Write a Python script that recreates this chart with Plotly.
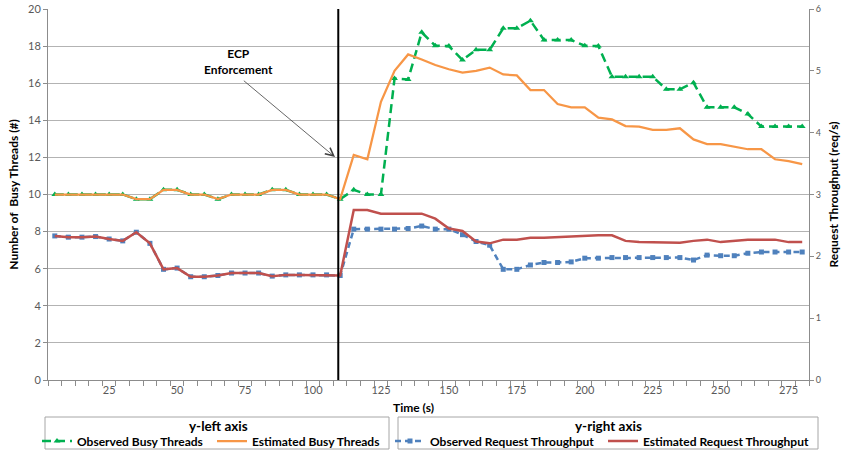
import plotly.graph_objects as go

# ---------------- data ----------------
time_s = list(range(5, 285, 5))  # 56 categories, 5..280

observed_busy = [10, 10, 10, 10, 10, 10, 9.75, 9.75, 10.25, 10.25,
                 10, 10, 9.75, 10, 10, 10, 10.25, 10.25, 10, 10,
                 10, 9.75, 10.25, 10, 10, 16.25, 16.2, 18.74, 18.02, 18.0,
                 17.25, 17.8, 17.8, 18.96, 18.96, 19.37, 18.33, 18.33, 18.33, 18.02,
                 18.0, 16.35, 16.35, 16.35, 16.35, 15.67, 15.67, 16.03, 14.7, 14.7,
                 14.7, 14.34, 13.66, 13.66, 13.66, 13.66]

estimated_busy = [10, 10, 10, 10, 10, 10, 9.75, 9.75, 10.25, 10.25,
                  10, 10, 9.75, 10, 10, 10, 10.25, 10.25, 10, 10,
                  10, 9.75, 12.13, 11.9, 15.0, 16.67, 17.55, 17.28, 16.98, 16.75,
                  16.57, 16.67, 16.84, 16.47, 16.42, 15.63, 15.63, 14.88, 14.7, 14.7,
                  14.14, 14.05, 13.69, 13.66, 13.48, 13.48, 13.57, 12.97, 12.72, 12.72,
                  12.58, 12.44, 12.44, 11.9, 11.8, 11.64]

observed_tput = [2.33, 2.31, 2.31, 2.32, 2.28, 2.25, 2.39, 2.21, 1.79, 1.81,
                 1.67, 1.67, 1.69, 1.73, 1.73, 1.73, 1.68, 1.70, 1.70, 1.70,
                 1.70, 1.69, 2.44, 2.44, 2.44, 2.44, 2.45, 2.49, 2.44, 2.44,
                 2.35, 2.24, 2.18, 1.79, 1.79, 1.86, 1.90, 1.90, 1.91, 1.97,
                 1.97, 1.98, 1.98, 1.98, 1.98, 1.98, 1.98, 1.94, 2.02, 2.01,
                 2.01, 2.05, 2.07, 2.07, 2.07, 2.07]

estimated_tput = [2.33, 2.31, 2.31, 2.32, 2.28, 2.25, 2.39, 2.21, 1.79, 1.81,
                  1.67, 1.67, 1.69, 1.73, 1.73, 1.73, 1.68, 1.70, 1.70, 1.70,
                  1.70, 1.69, 2.75, 2.75, 2.69, 2.69, 2.69, 2.69, 2.61, 2.45,
                  2.41, 2.24, 2.21, 2.27, 2.27, 2.30, 2.30, 2.31, 2.33, 2.34,
                  2.34, 2.34, 2.25, 2.23, 2.23, 2.23, 2.22, 2.25, 2.27, 2.23,
                  2.25, 2.27, 2.27, 2.27, 2.23, 2.23]

x_tick_vals = [25, 50, 75, 100, 125, 150, 175, 200, 225, 250, 275]
ecp_time = 109.3

# ---------------- style ----------------
GREEN = "#00b050"
ORANGE = "#f79646"
BLUE = "#4f81bd"
RED = "#c0504d"
GRID = "#b3b3b3"
AXIS = "#8c8c8c"
BOX = "#a6a6a6"
TXT = "#595959"
FONT = "Lato"

fig = go.Figure()

fig.add_trace(go.Scatter(
    x=time_s, y=observed_busy, name="<b>Observed Busy Threads</b>", mode="lines+markers",
    line=dict(color=GREEN, width=2.5, dash="9px,5px"),
    marker=dict(symbol="triangle-up", size=6, color=GREEN),
    legend="legend"))
fig.add_trace(go.Scatter(
    x=time_s, y=estimated_busy, name="<b>Estimated Busy Threads</b>", mode="lines",
    line=dict(color=ORANGE, width=2.25), legend="legend"))
fig.add_trace(go.Scatter(
    x=time_s, y=observed_tput, name="<b>Observed Request Throughput</b>", mode="lines+markers",
    line=dict(color=BLUE, width=2.5, dash="6px,4px"),
    marker=dict(symbol="square", size=5, color=BLUE),
    yaxis="y2", legend="legend2"))
fig.add_trace(go.Scatter(
    x=time_s, y=estimated_tput, name="<b>Estimated Request Throughput</b>", mode="lines",
    line=dict(color=RED, width=2.5), yaxis="y2", legend="legend2"))

L, R, T, B = 48, 32, 9, 72
W, H = 841, 452
PW, PH = W - L - R, H - T - B


def pxx(px):
    return (px - L) / PW


def pxy(py):
    return (H - B - py) / PH


legend_common = dict(
    orientation="h", xanchor="left", yanchor="middle",
    xref="container", yref="container",
    borderwidth=0, bgcolor="rgba(0,0,0,0)",
    font=dict(family=FONT, size=12, color="black"),
    itemwidth=30, tracegroupgap=0,
)


def label(px, py, text, size):
    return dict(x=pxx(px), y=pxy(py), xref="paper", yref="paper", showarrow=False,
                xanchor="center", yanchor="middle", text=text,
                font=dict(family=FONT, size=size, color="black"))


fig.update_layout(
    template="none",
    width=W, height=H,
    margin=dict(l=L, r=R, t=T, b=B, autoexpand=False),
    paper_bgcolor="white", plot_bgcolor="white",
    font=dict(family=FONT, color=TXT),
    showlegend=True,
    xaxis=dict(
        range=[2.5, 282.5], tickvals=x_tick_vals, ticks="",
        tickfont=dict(size=11, color=TXT), automargin=False,
        showgrid=False, zeroline=False,
        showline=True, linecolor=AXIS, linewidth=1,
        minor=dict(ticks="outside", tick0=2.5, dtick=5, ticklen=5,
                   tickcolor=AXIS, showgrid=False),
    ),
    yaxis=dict(
        range=[0, 20], dtick=2, tickfont=dict(size=11, color=TXT), automargin=False,
        showgrid=True, gridcolor=GRID, gridwidth=1, zeroline=False,
        showline=True, linecolor=AXIS, linewidth=1,
        ticks="outside", ticklen=4, tickcolor=AXIS,
        title=dict(text="<b>Number of  Busy Threads (#)</b>",
                   font=dict(size=12, color="black"), standoff=6),
    ),
    yaxis2=dict(
        range=[0, 6], dtick=1, overlaying="y", side="right", automargin=False,
        tickfont=dict(size=9, color=TXT), showgrid=False, zeroline=False,
        showline=True, linecolor=AXIS, linewidth=1,
        ticks="outside", ticklen=4, tickcolor=AXIS,
        title=dict(text="<b>Request Throughput (req/s)</b>",
                   font=dict(size=12, color="black"), standoff=13),
    ),
    legend=dict(**legend_common, x=37 / W, y=1 - 441 / H, entrywidth=130),
    legend2=dict(**legend_common, x=390 / W, y=1 - 441 / H, entrywidth=168),
    shapes=[
        dict(type="line", xref="x", yref="paper", x0=ecp_time, x1=ecp_time,
             y0=0, y1=1, line=dict(color="black", width=2)),
        dict(type="rect", xref="paper", yref="paper",
             x0=pxx(45), x1=pxx(389), y0=pxy(449), y1=pxy(417),
             line=dict(color=BOX, width=1), fillcolor="rgba(0,0,0,0)"),
        dict(type="rect", xref="paper", yref="paper",
             x0=pxx(398), x1=pxx(818), y0=pxy(449), y1=pxy(417),
             line=dict(color=BOX, width=1), fillcolor="rgba(0,0,0,0)"),
    ],
    annotations=[
        dict(x=72.5, y=17.15, xref="x", yref="y", showarrow=False,
             text="<b>ECP<br>Enforcement</b>",
             font=dict(family=FONT, size=12, color="black")),
        dict(x=108.1, y=12.02, xref="x", yref="y", ax=74, ay=16.2,
             axref="x", ayref="y", text="", showarrow=True,
             arrowhead=5, arrowsize=2, arrowwidth=0.8, arrowcolor="#404040",
             standoff=0, startstandoff=0),
        label(413, 407, "<b>Time (s)</b>", 12),
        label(218.5, 425.5, "<b>y-left axis</b>", 13.5),
        label(608, 425.5, "<b>y-right axis</b>", 13.5),
    ],
)

fig.write_html("out.html",
               config={"displayModeBar": False},
               post_script="document.body.style.margin='0';document.body.style.overflow='hidden';")
